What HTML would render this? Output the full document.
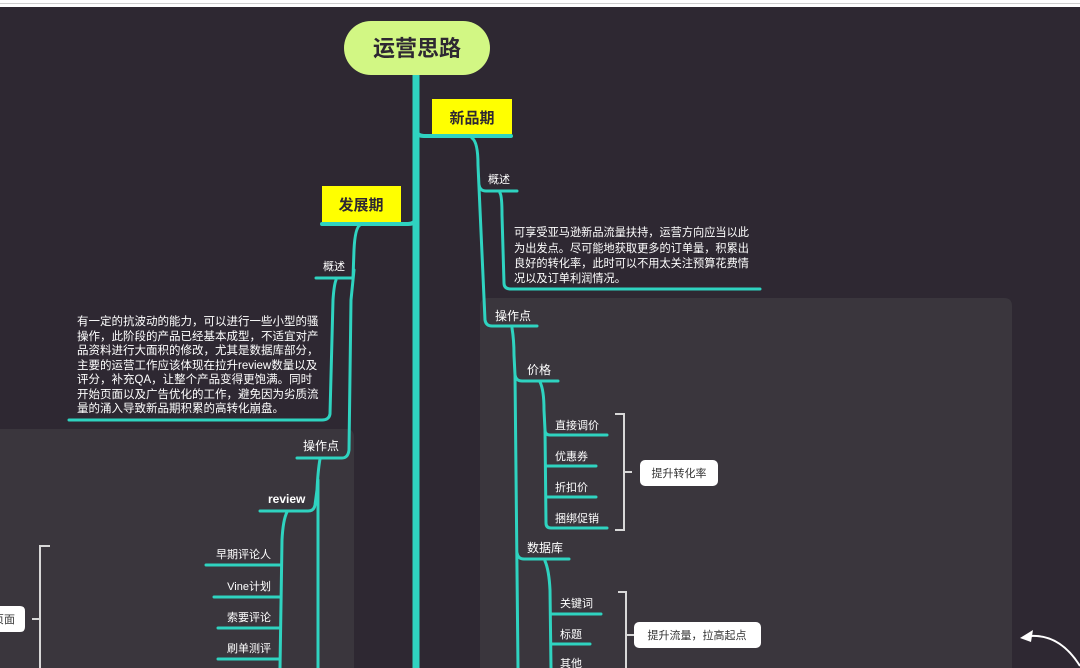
<!DOCTYPE html>
<html><head><meta charset="utf-8"><style>
html,body{margin:0;padding:0;background:#2e2832;width:1080px;height:668px;overflow:hidden;}
svg{display:block}
text{font-family:"Liberation Sans","Noto Sans CJK SC",sans-serif;fill:#fff;}
</style></head><body>
<svg width="1080" height="668" viewBox="0 0 1080 668" xmlns="http://www.w3.org/2000/svg">
<rect x="0" y="0" width="1080" height="668" fill="#2e2832"/>
<rect x="0" y="0" width="1080" height="7" fill="#ffffff"/>
<line x1="0" y1="3.5" x2="1080" y2="3.5" stroke="#cfcfcf" stroke-width="1"/>
<path d="M480 668 L480 306 Q480 298 488 298 L1004 298 Q1012 298 1012 306 L1012 668 Z" fill="#3a363d"/>
<path d="M0 668 L0 429 L346 429 Q354 429 354 437 L354 668 Z" fill="#3a363d"/>

<g fill="none" stroke="#2fd3c0" stroke-linecap="round" stroke-linejoin="round">
<line x1="416" y1="70" x2="416" y2="668" stroke-width="7"/>
<path d="M416 130 Q417 136 424 136 L511 136" stroke-width="4"/>
<path d="M416 218 Q415 224 408 224 L322 224" stroke-width="4"/>
<path d="M472 138 Q478 142 478 165 L485 320 Q486 326 492 326 L537 326" stroke-width="3"/>
<path d="M479 185 Q480 191 486 191 L517 191" stroke-width="3"/>
<path d="M500 193 Q502 196 502 215 L504 283 Q504 289 511 289 L760 289" stroke-width="3"/>
<path d="M512 328 Q514 340 514 355 L515 375 Q516 381 522 381 L558 381" stroke-width="3"/>
<path d="M515 375 L518 668" stroke-width="3"/>
<path d="M517 553 Q518 559 524 559 L569 559" stroke-width="3"/>
<path d="M540 382 Q544 390 544 410 L545 430 Q545 435 550 435 L607 435" stroke-width="3"/>
<path d="M545 430 L546 523 Q546 528 551 528 L607 528" stroke-width="3"/>
<path d="M546 466 L596 466 M546 497 L596 497" stroke-width="3"/>
<path d="M545 561 Q549 570 550 590 L551 668" stroke-width="3"/>
<path d="M551 614 L601 614 M551 644 L590 644" stroke-width="3"/>
<path d="M360 225 Q355 228 354 250 L353 278 L316 278" stroke-width="3"/>
<path d="M336 280 Q334 285 333 300 L330 414 Q329 420 322 420 L69 420" stroke-width="3"/>
<path d="M354 270 L351 300 L349 450 Q348 458 342 458 L297 458" stroke-width="3"/>
<path d="M320 459 Q318 470 317 490 L315 505 Q314 511 308 511 L260 511" stroke-width="3"/>
<path d="M318 480 L318 668" stroke-width="3"/>
<path d="M287 512 Q283 520 282 540 L280 668" stroke-width="3"/>
<path d="M280 565 L206 565 M280 597 L214 597 M280 628 L218 628 M280 659 L218 659" stroke-width="3"/>
</g>

<g fill="none" stroke="#d8d8d8" stroke-width="2">
<path d="M615 414 L624 414 L624 530 L615 530 M624 472 L632 472"/>
<path d="M618 592 L626 592 L626 668 M626 635 L634 635"/>
<path d="M50 546 L40 546 L40 668 M40 619 L32 619"/>
</g>

<rect x="344" y="21" width="146" height="54" rx="27" fill="#d2f784"/>
<text x="417" y="56" text-anchor="middle" font-size="22" font-weight="bold" style="fill:#2e2832">运营思路</text>
<rect x="432" y="99" width="80" height="35" fill="#ffff00"/>
<text x="472" y="123" text-anchor="middle" font-size="15" font-weight="bold" style="fill:#2e2832">新品期</text>
<rect x="322" y="186" width="79" height="36" fill="#ffff00"/>
<text x="361" y="210" text-anchor="middle" font-size="15" font-weight="bold" style="fill:#2e2832">发展期</text>

<g font-size="11">
<text x="488" y="183">概述</text>
<text x="495" y="320" font-size="12">操作点</text>
<text x="527" y="374" font-size="12">价格</text>
<text x="555" y="429">直接调价</text>
<text x="555" y="460">优惠券</text>
<text x="555" y="491">折扣价</text>
<text x="555" y="522">捆绑促销</text>
<text x="527" y="552" font-size="12">数据库</text>
<text x="560" y="607">关键词</text>
<text x="560" y="638">标题</text>
<text x="560" y="667">其他</text>
<text x="323" y="270">概述</text>
<text x="303" y="450" font-size="12">操作点</text>
<text x="268" y="503" font-size="12" font-weight="bold">review</text>
<text x="271" y="558" text-anchor="end">早期评论人</text>
<text x="271" y="590" text-anchor="end">Vine计划</text>
<text x="271" y="621" text-anchor="end">索要评论</text>
<text x="271" y="652" text-anchor="end">刷单测评</text>
</g>
<g font-size="11.2">
<text x="514" y="236">可享受亚马逊新品流量扶持，运营方向应当以此</text>
<text x="514" y="252">为出发点。尽可能地获取更多的订单量，积累出</text>
<text x="514" y="267">良好的转化率，此时可以不用太关注预算花费情</text>
<text x="514" y="282">况以及订单利润情况。</text>
</g>
<g font-size="11.5">
<text x="77" y="325">有一定的抗波动的能力，可以进行一些小型的骚</text>
<text x="77" y="340">操作，此阶段的产品已经基本成型，不适宜对产</text>
<text x="77" y="354">品资料进行大面积的修改，尤其是数据库部分，</text>
<text x="77" y="369">主要的运营工作应该体现在拉升review数量以及</text>
<text x="77" y="383">评分，补充QA，让整个产品变得更饱满。同时</text>
<text x="77" y="398">开始页面以及广告优化的工作，避免因为劣质流</text>
<text x="77" y="412">量的涌入导致新品期积累的高转化崩盘。</text>
</g>

<rect x="640" y="460" width="78" height="26" rx="5" fill="#ffffff"/>
<text x="679" y="477" text-anchor="middle" font-size="11" style="fill:#333">提升转化率</text>
<rect x="634" y="622" width="127" height="26" rx="5" fill="#ffffff"/>
<text x="697" y="639" text-anchor="middle" font-size="11" style="fill:#333">提升流量，拉高起点</text>
<path d="M0 606 L20 606 Q25 606 25 611 L25 627 Q25 632 20 632 L0 632 Z" fill="#ffffff"/>
<text x="15" y="623" text-anchor="end" font-size="11" style="fill:#333">页面</text>

<path d="M1080 666 Q1060 634 1030 636" fill="none" stroke="#ffffff" stroke-width="2"/>
<path d="M1020 638 L1033 630 L1031 642 Z" fill="#ffffff"/>
</svg>
</body></html>
